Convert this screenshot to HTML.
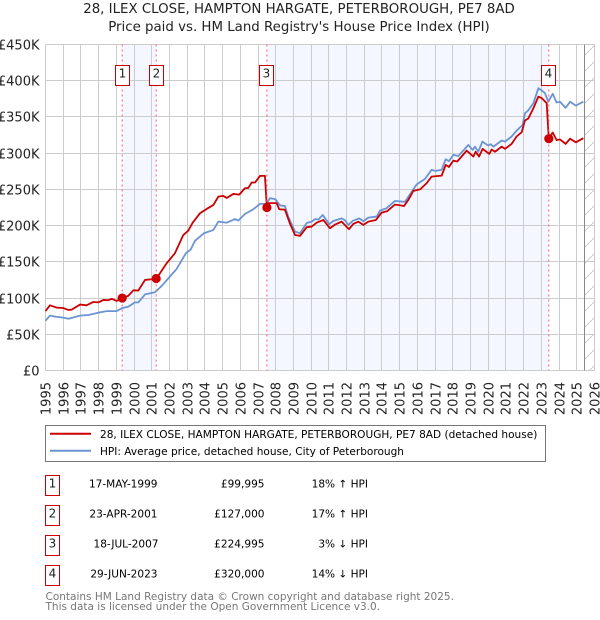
<!DOCTYPE html>
<html>
<head>
<meta charset="utf-8">
<title>Price paid vs. HPI</title>
<style>
html,body{margin:0;padding:0;background:#fff;}
svg{display:block;font-family:"DejaVu Sans","Liberation Sans",sans-serif;}
.title{font-size:13.35px;fill:#222;text-anchor:middle;}
.tick{font-size:13px;fill:#222;}
.legend{font-size:10.55px;fill:#000;}
.row{font-size:10.55px;fill:#000;}
.num{font-size:12px;fill:#222;text-anchor:middle;}
.foot{font-size:10.5px;fill:#777;}
</style>
</head>
<body>
<svg id="chart" xmlns="http://www.w3.org/2000/svg" width="600" height="620" viewBox="0 0 600 620">
  <defs>
    <pattern id="hatch" patternUnits="userSpaceOnUse" width="16" height="16">
      <line x1="0" y1="16" x2="16" y2="0" stroke="#ccc" stroke-width="1"></line>
    </pattern>
  </defs>
  <text class="title" x="299" y="13">28, ILEX CLOSE, HAMPTON HARGATE, PETERBOROUGH, PE7 8AD</text>
  <text class="title" x="299" y="31">Price paid vs. HM Land Registry's House Price Index (HPI)</text>
  <g id="bands"></g>
  <g id="grid"></g>
  <g id="series"></g>
  <g id="sales"></g>

  <rect x="45.5" y="425.5" width="500" height="36" fill="#fff" stroke="#777"></rect>
  <line x1="50" y1="433.7" x2="91" y2="433.7" stroke="#cc0000" stroke-width="2"></line>
  <text class="legend" x="100" y="438">28, ILEX CLOSE, HAMPTON HARGATE, PETERBOROUGH, PE7 8AD (detached house)</text>
  <line x1="50" y1="450.7" x2="91" y2="450.7" stroke="#6a94d4" stroke-width="2"></line>
  <text class="legend" x="100" y="455">HPI: Average price, detached house, City of Peterborough</text>

  <g>
    <rect x="45.5" y="475.5" width="14" height="20" fill="#fff" stroke="#cc0000"></rect>
    <text class="num" x="52.5" y="487.5">1</text>
    <text class="row" x="157.5" y="487.5" text-anchor="end">17-MAY-1999</text>
    <text class="row" x="264.5" y="487.5" text-anchor="end">£99,995</text>
    <text class="row" x="368" y="487.5" text-anchor="end">18% ↑ HPI</text>
  </g>
  <g>
    <rect x="45.5" y="505.5" width="14" height="20" fill="#fff" stroke="#cc0000"></rect>
    <text class="num" x="52.5" y="517.5">2</text>
    <text class="row" x="157.5" y="517.5" text-anchor="end">23-APR-2001</text>
    <text class="row" x="264.5" y="517.5" text-anchor="end">£127,000</text>
    <text class="row" x="368" y="517.5" text-anchor="end">17% ↑ HPI</text>
  </g>
  <g>
    <rect x="45.5" y="535.5" width="14" height="20" fill="#fff" stroke="#cc0000"></rect>
    <text class="num" x="52.5" y="547.5">3</text>
    <text class="row" x="158.5" y="547.5" text-anchor="end">18-JUL-2007</text>
    <text class="row" x="264.5" y="547.5" text-anchor="end">£224,995</text>
    <text class="row" x="368" y="547.5" text-anchor="end">3% ↓ HPI</text>
  </g>
  <g>
    <rect x="45.5" y="565.5" width="14" height="20" fill="#fff" stroke="#cc0000"></rect>
    <text class="num" x="52.5" y="577.5">4</text>
    <text class="row" x="157.5" y="577.5" text-anchor="end">29-JUN-2023</text>
    <text class="row" x="264.5" y="577.5" text-anchor="end">£320,000</text>
    <text class="row" x="368" y="577.5" text-anchor="end">14% ↓ HPI</text>
  </g>

  <text class="foot" x="45.5" y="600">Contains HM Land Registry data © Crown copyright and database right 2025.</text>
  <text class="foot" x="45.5" y="610">This data is licensed under the Open Government Licence v3.0.</text>
</svg>
<script>
const yearTicks = [1995,1996,1997,1998,1999,2000,2001,2002,2003,2004,2005,2006,2007,2008,2009,2010,2011,2012,2013,2014,2015,2016,2017,2018,2019,2020,2021,2022,2023,2024,2025,2026];
const valueTicks = [0,50,100,150,200,250,300,350,400,450];
const valueLabels = ['£0','£50K','£100K','£150K','£200K','£250K','£300K','£350K','£400K','£450K'];

const hpiYears = [1995,1995.25,1995.63,1996,1996.3,1996.95,1997.42,1997.98,1998.45,1999.02,1999.34,1999.67,2000.05,2000.24,2000.62,2001.18,2001.56,2001.99,2002.4,2002.93,2003.2,2003.44,2003.95,2004.48,2004.76,2005.23,2005.7,2005.89,2006.26,2006.74,2007.11,2007.47,2007.68,2007.98,2008.24,2008.52,2008.71,2009.09,2009.37,2009.75,2010.03,2010.22,2010.41,2010.65,2011.03,2011.25,2011.72,2011.91,2012.1,2012.38,2012.72,2012.95,2013.23,2013.7,2013.89,2014.26,2014.73,2015.2,2015.3,2015.96,2016.43,2016.8,2017.01,2017.37,2017.6,2017.78,2018.03,2018.31,2018.88,2019.12,2019.25,2019.44,2019.67,2020,2020.14,2020.29,2020.76,2020.95,2021.32,2021.6,2021.94,2022.07,2022.26,2022.55,2022.83,2023.02,2023.2,2023.39,2023.64,2023.86,2024.05,2024.37,2024.62,2024.95,2025.37];
const hpiValues = [68.8,75.7,74,73,71.5,75.7,76.6,79.8,82,82,86.3,88,94,94,105,108,116.7,128.7,140,162,167,179,189.5,194,205.5,204,209,207,216,222.6,230,230,238,236.4,228,227,212,191.7,189.5,203.6,205.5,209,208.5,214.7,202,206.4,210,207.5,200.9,207,210,206,211,212.5,220.7,224,234,233,233,257,264.5,277,275.5,277,291.6,289,297.6,296,311.4,304.5,309,302,316,310.5,312.5,309,317.5,316,323,331,339,355,359,369,389.7,386.5,383,371,382,370,371,362.5,371,365.7,371];

const paidYears = [1995,1995.25,1995.63,1996,1996.29,1996.48,1996.95,1997.32,1997.7,1997.98,1998.27,1998.55,1998.74,1999.02,1999.33,1999.67,1999.96,2000.24,2000.62,2000.99,2001.25,2001.46,2001.84,2002.31,2002.78,2003.06,2003.31,2003.72,2004.1,2004.48,2004.76,2005.04,2005.23,2005.61,2005.94,2006.26,2006.45,2006.64,2006.83,2007.11,2007.39,2007.5,2007.58,2008.05,2008.2,2008.52,2008.8,2009.09,2009.37,2009.75,2010.03,2010.31,2010.69,2011.06,2011.35,2011.72,2012.14,2012.38,2012.66,2012.95,2013.23,2013.66,2013.98,2014.3,2014.73,2014.92,2015.24,2015.49,2015.77,2016.15,2016.52,2016.8,2017.37,2017.6,2017.78,2018.03,2018.25,2018.78,2019.16,2019.29,2019.48,2019.68,2020.06,2020.19,2020.38,2020.76,2020.95,2021.32,2021.6,2021.89,2022.07,2022.26,2022.55,2022.83,2023.02,2023.3,2023.42,2023.64,2023.86,2024.05,2024.37,2024.62,2024.95,2025.37];
const paidValues = [82,90,86.8,86.3,83.6,84,91,90,94.6,94,97.4,97,99,96,99.995,103,110.7,110.4,125,126,127,134,148,162,187,193,204,217,223,228.5,240,241,238.2,243.7,242.8,251.6,252,259.4,259.5,268.6,268.8,224.995,231,231,222.6,222,203,187,185.8,197.8,198.7,204,207.8,196.4,201.4,205.5,195,202.3,205.5,201,205.5,207.8,218,220,229,228.5,227,235.5,248,250,258.5,267.6,269,283.8,281,289.7,288.5,303.5,295.3,302,295.3,305.9,299,305,302,309,306,312.8,323,329,345,347.8,362,378,376,369,320,328.5,318,319,312.8,320,315,320.7];

const saleYears = [1999.33,2001.25,2007.5,2023.42];
const salePrices = [99.995,127,224.995,320];
const saleLabels = ['1','2','3','4'];
const forecastStart = 2025.46;

const NS = 'http://www.w3.org/2000/svg';
const left = 45.5, right = 594.5, top_ = 44.5, bottom = 370.5;
function xAt(year) { return left + (year - 1995) * (right - left) / 31; }
function yAt(value) { return bottom - value * (bottom - top_) / 450; }
function snap(p) { return Math.floor(p) + 0.5; }
function make(tag, parent) {
  const el = document.createElementNS(NS, tag);
  parent.appendChild(el);
  return el;
}
function setAll(el, map) { for (const k in map) el.setAttribute(k, map[k]); return el; }
function pathFor(xs, ys) {
  return xs.map((v, i) => (i ? 'L' : 'M') + xAt(v).toFixed(2) + ' ' + yAt(ys[i]).toFixed(2)).join('');
}

const bands = document.getElementById('bands');
const grid = document.getElementById('grid');
const seriesG = document.getElementById('series');
const salesG = document.getElementById('sales');

for (let i = 0; i + 1 < saleYears.length; i += 2) {
  const band = make('rect', bands);
  
  
  setAll(band, {x: xAt(saleYears[i]), y: top_, width: xAt(saleYears[i + 1]) - xAt(saleYears[i]), height: bottom - top_, fill: '#f4f7ff'});
}

valueTicks.forEach((v, i) => {
  const line = make('line', grid);
  
  
  setAll(line, {x1: left, x2: right, y1: snap(yAt(v)), y2: snap(yAt(v)), stroke: '#ccc', 'stroke-width': 1});
  const label = make('text', grid);
  
  
  setAll(label, {class: 'tick', x: 39.5, y: snap(yAt(v)) + 5, 'text-anchor': 'end'});
  label.textContent = valueLabels[i];
});

yearTicks.forEach(yr => {
  const line = make('line', grid);
  
  
  setAll(line, {x1: snap(xAt(yr)), x2: snap(xAt(yr)), y1: top_, y2: bottom, stroke: '#ccc', 'stroke-width': 1});
  const label = make('text', grid);
  
  
  const lx = snap(xAt(yr)) + 5;
  setAll(label, {class: 'tick', x: lx, y: 382, 'text-anchor': 'end', transform: 'rotate(-90 ' + lx + ' 382)'});
  label.textContent = String(yr);
});

const hatch = make('rect', grid);


setAll(hatch, {x: xAt(forecastStart), y: top_, width: right - xAt(forecastStart), height: bottom - top_, fill: 'url(#hatch)'});
const hatchEdge = make('line', grid);


setAll(hatchEdge, {x1: snap(xAt(forecastStart)), x2: snap(xAt(forecastStart)), y1: top_, y2: bottom, stroke: '#888', 'stroke-width': 1});

const hpiLine = make('path', seriesG);


setAll(hpiLine, {d: pathFor(hpiYears, hpiValues), fill: 'none', stroke: '#6a94d4', 'stroke-width': 1.8, 'stroke-linejoin': 'round'});

const paidLine = make('path', seriesG);


setAll(paidLine, {d: pathFor(paidYears, paidValues), fill: 'none', stroke: '#cc0000', 'stroke-width': 1.8, 'stroke-linejoin': 'round'});

saleYears.forEach((yr, i) => {
  const px = xAt(yr);
  const guide = make('line', salesG);
  
  
  setAll(guide, {x1: px, x2: px, y1: top_, y2: bottom, stroke: '#ff5a6a', 'stroke-width': 1, 'stroke-dasharray': '2 3'});
  const dot = make('circle', salesG);
  
  
  setAll(dot, {cx: px, cy: yAt(salePrices[i]), r: 4.6, fill: '#cc0000'});
  const box = make('rect', salesG);
  
  
  setAll(box, {x: snap(px - 7), y: 65.5, width: 14, height: 20, fill: '#fff', stroke: '#cc0000'});
  const num = make('text', salesG);
  
  
  setAll(num, {class: 'num', x: snap(px - 7) + 7, y: 77.5});
  num.textContent = saleLabels[i];
});
</script>
</body>
</html>
